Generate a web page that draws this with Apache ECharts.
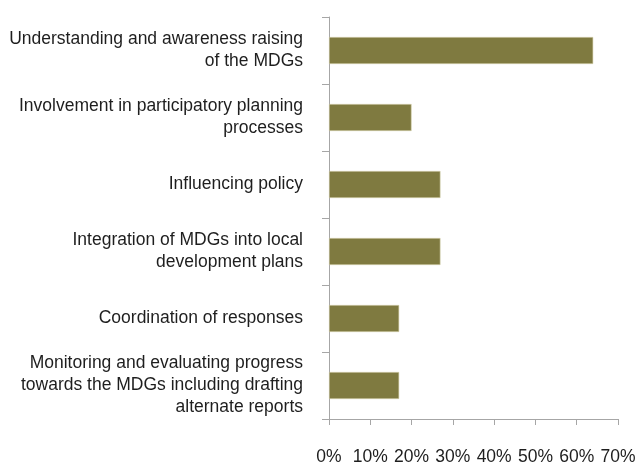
<!DOCTYPE html>
<html><head><meta charset="utf-8">
<script src="https://cdn.jsdelivr.net/npm/echarts@6/dist/echarts.min.js"></script>
<style>html,body{margin:0;padding:0;background:#fff}#c{width:638px;height:465px}</style>
</head><body><div id="c"></div>
<script>
const categories = [
  "Understanding and awareness raising\nof the MDGs",
  "Involvement in participatory planning\nprocesses",
  "Influencing policy",
  "Integration of MDGs into local\ndevelopment plans",
  "Coordination of responses",
  "Monitoring and evaluating progress\ntowards the MDGs including drafting\nalternate reports"
];
const values = [64, 20, 27, 27, 17, 17];
const FONT = "'Liberation Sans Narrow', 'Arial Narrow', 'Liberation Sans', Arial, sans-serif";
const chart = echarts.init(document.getElementById('c'));
chart.setOption({
  animation: false,
  grid: {left: 329, right: 20, top: 17, bottom: 46, containLabel: false, outerBoundsMode: 'none'},
  xAxis: {
    type: 'value', min: 0, max: 70, interval: 10,
    axisLine: {show: true, lineStyle: {color: '#a6a6a6', width: 1}},
    axisTick: {show: true, length: 6, lineStyle: {color: '#a6a6a6'}},
    splitLine: {show: false},
    axisLabel: {formatter: '{value}%', color: '#1e1e1e', fontFamily: FONT, fontSize: 17.5, margin: 29,
      hideOverlap: false, showMinLabel: true, showMaxLabel: true}
  },
  yAxis: {
    type: 'category', data: categories, inverse: true,
    axisLine: {show: true, lineStyle: {color: '#a6a6a6', width: 1}},
    axisTick: {show: true, length: 7, lineStyle: {color: '#a6a6a6'}},
    axisLabel: {color: '#1e1e1e', fontFamily: FONT, fontSize: 17.5, lineHeight: 22, margin: 26, align: 'right',
      padding: [5, 0, 0, 0]}
  },
  series: [{
    type: 'bar', data: values, barWidth: 27,
    itemStyle: {color: '#7f7a40', borderColor: '#d6d3b0', borderWidth: 0.6}
  }]
});
</script></body></html>
